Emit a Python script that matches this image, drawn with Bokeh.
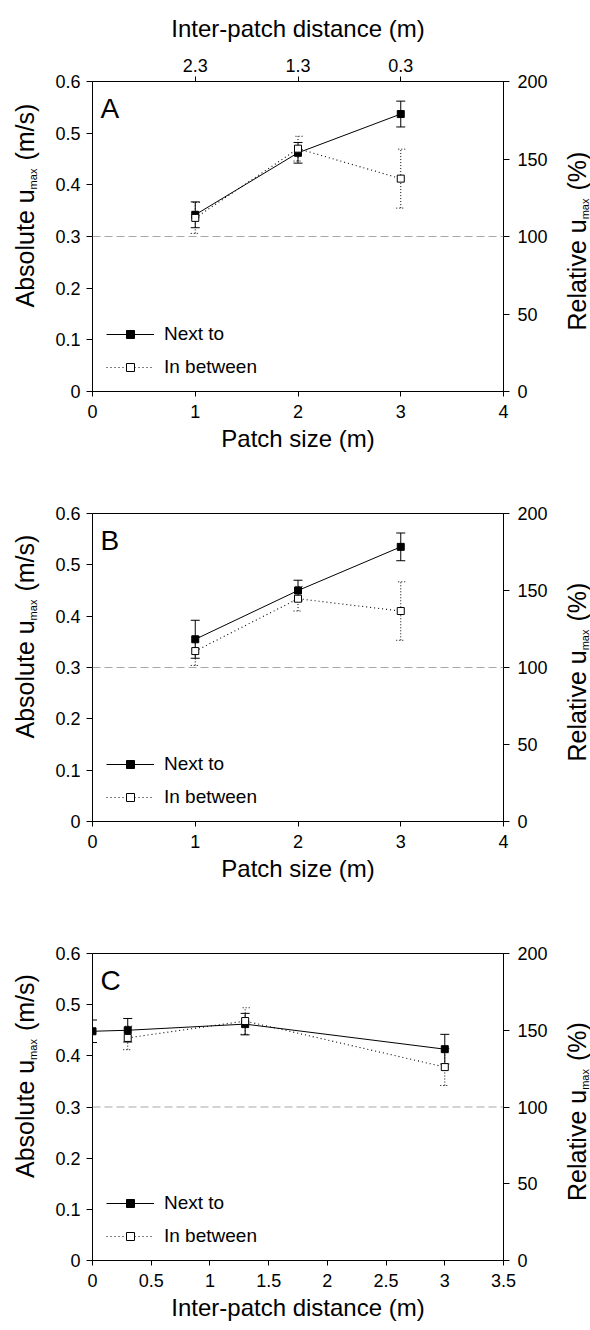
import math
from bokeh.plotting import figure
from bokeh.models import (ColumnDataSource, Whisker, TeeHead, Span, Label,
                          LinearAxis, Range1d, FixedTicker, Legend, LegendItem)
from bokeh.core.properties import value
from bokeh.layouts import column, row
from bokeh.embed import file_html
from bokeh.resources import INLINE

# ---------------- data ----------------
patch_size = [1, 2, 3]
top_ticks = [1, 2, 3]
top_tick_labels = ["2.3", "1.3", "0.3"]
size_ticks = [0, 1, 2, 3, 4]
size_tick_labels = ["0", "1", "2", "3", "4"]
dist_ticks = [0, 0.5, 1, 1.5, 2, 2.5, 3, 3.5]
dist_tick_labels = ["0", "0.5", "1", "1.5", "2", "2.5", "3", "3.5"]
abs_ticks = [0, 0.1, 0.2, 0.3, 0.4, 0.5, 0.6]
abs_tick_labels = ["0", "0.1", "0.2", "0.3", "0.4", "0.5", "0.6"]
rel_ticks = [0, 50, 100, 150, 200]
rel_tick_labels = ["0", "50", "100", "150", "200"]
reference_umax = 0.3
series_names = ["Next to", "In between"]

# Panel A
a_next = [0.342, 0.462, 0.537]
a_next_err = [0.025, 0.020, 0.025]
a_betw = [0.336, 0.470, 0.412]
a_betw_err = [0.030, 0.024, 0.057]
# Panel B
b_next = [0.355, 0.450, 0.535]
b_next_err = [0.037, 0.020, 0.027]
b_betw = [0.332, 0.434, 0.410]
b_betw_err = [0.028, 0.024, 0.057]
# Panel C
c_next_x = [0, 0.3, 1.3, 3.0]
c_next = [0.448, 0.450, 0.462, 0.413]
c_next_err = [0.022, 0.023, 0.021, 0.029]
c_betw_x = [0.3, 1.3, 3.0]
c_betw = [0.435, 0.468, 0.378]
c_betw_err = [0.023, 0.026, 0.036]

# ---------------- style / layout ----------------
FONT = "Liberation Sans"
SL, SR = 40, 40          # side strips for rotated titles
W = 590 - SL - SR        # main figure width
FL = 92 - SL             # main border left
FW = 412
FR = W - FL - FW
YMAX = 0.6

ARIAL = {'A': 667, 'b': 556, 's': 500, 'o': 556, 'l': 222, 'u': 556, 't': 278,
         'e': 556, ' ': 278, 'm': 833, 'a': 556, 'x': 500, '(': 333, '/': 278,
         ')': 333, 'R': 722, 'i': 222, 'v': 500, '%': 889}


def text_w(s, size):
    return sum(ARIAL.get(c, 556) for c in s) / 1000.0 * size


def style_axis(ax, tick_out=6):
    ax.axis_line_color = "black"
    ax.major_tick_line_color = "black"
    ax.major_tick_out = tick_out
    ax.major_tick_in = 0
    ax.minor_tick_line_color = None
    ax.major_label_text_font = FONT
    ax.major_label_text_font_size = "18px"
    ax.major_label_text_color = "black"
    ax.axis_label_text_font = FONT
    ax.axis_label_text_font_size = "24px"
    ax.axis_label_text_font_style = "normal"
    ax.axis_label_text_color = "black"


def title_strip(width, height, top, bottom, pieces, base_x, start_from_bottom):
    """Rotated title (reads bottom to top); base_x is the text baseline."""
    fh = height - top - bottom
    s = figure(width=width, height=height, x_range=Range1d(0, width),
               y_range=Range1d(0, fh), output_backend="svg",
               toolbar_location=None, x_axis_location=None, y_axis_location=None,
               min_border=0, min_border_left=0, min_border_right=0,
               min_border_top=top, min_border_bottom=bottom)
    s.outline_line_color = None
    s.xgrid.visible = False
    s.ygrid.visible = False
    s.background_fill_color = "white"
    s.border_fill_color = "white"
    y = start_from_bottom
    for txt, size, shift, gap in pieces:
        y += gap
        cx = base_x + shift - 0.35 * size   # centre line of the text box
        s.text(x=[cx], y=[y], text=[txt], angle=math.pi / 2,
               text_font=value(FONT), text_font_size=f"{size}px",
               text_align="left", text_baseline="middle", text_color="black")
        y += text_w(txt, size)
    return s


def make_panel(letter, height, top, bottom, x_end, x_ticks, x_labels, x_title,
               nx, ny, ne, bx, by, be, top_axis=False):
    fh = height - top - bottom
    p = figure(width=W, height=height, x_range=Range1d(0, x_end),
               y_range=Range1d(0, YMAX), output_backend="svg",
               toolbar_location=None, min_border_left=FL, min_border_right=FR,
               min_border_top=top, min_border_bottom=bottom)
    p.outline_line_color = "black"
    p.outline_line_width = 1
    p.xgrid.visible = False
    p.ygrid.visible = False
    p.background_fill_color = "white"
    p.border_fill_color = "white"

    # bottom axis
    xa = p.xaxis[0]
    xa.ticker = FixedTicker(ticks=x_ticks)
    xa.major_label_overrides = dict(zip(x_ticks, x_labels))
    style_axis(xa, 5)
    xa.major_label_standoff = 8
    xa.axis_label = x_title
    xa.axis_label_standoff = 4

    # left axis
    ya = p.yaxis[0]
    ya.ticker = FixedTicker(ticks=abs_ticks)
    ya.major_label_overrides = dict(zip(abs_ticks, abs_tick_labels))
    style_axis(ya, 6)
    ya.major_label_standoff = 6

    # right axis
    p.extra_y_ranges = {"rel": Range1d(0, 200)}
    ra = LinearAxis(y_range_name="rel", ticker=FixedTicker(ticks=rel_ticks))
    ra.major_label_overrides = dict(zip(rel_ticks, rel_tick_labels))
    style_axis(ra, 6)
    ra.major_label_standoff = 8
    p.add_layout(ra, "right")

    if top_axis:
        ta = LinearAxis(ticker=FixedTicker(ticks=top_ticks))
        ta.major_label_overrides = dict(zip(top_ticks, top_tick_labels))
        style_axis(ta, 5)
        ta.major_label_standoff = 5
        ta.axis_label = "Inter-patch distance (m)"
        ta.axis_label_standoff = 14
        p.add_layout(ta, "above")

    # reference line (100 %)
    p.add_layout(Span(location=reference_umax, dimension="width",
                      line_color="#a8a8a8", line_dash="8 4", line_width=1))

    bsrc = ColumnDataSource(dict(x=bx, y=by,
                                 up=[v + e for v, e in zip(by, be)],
                                 lo=[v - e for v, e in zip(by, be)]))
    nsrc = ColumnDataSource(dict(x=nx, y=ny,
                                 up=[v + e for v, e in zip(ny, ne)],
                                 lo=[v - e for v, e in zip(ny, ne)]))

    p.add_layout(Whisker(source=bsrc, base="x", upper="up", lower="lo",
                         line_color="black", line_width=1, line_dash="1 2",
                         upper_head=TeeHead(size=9, line_color="black", line_width=1, line_dash="1 2"),
                         lower_head=TeeHead(size=9, line_color="black", line_width=1, line_dash="1 2")))
    p.add_layout(Whisker(source=nsrc, base="x", upper="up", lower="lo",
                         line_color="black", line_width=1,
                         upper_head=TeeHead(size=9, line_color="black", line_width=1),
                         lower_head=TeeHead(size=9, line_color="black", line_width=1)))

    nl = p.line("x", "y", source=nsrc, line_color="black", line_width=1)
    ns = p.scatter("x", "y", source=nsrc, marker="square", size=7,
                   fill_color="black", line_color="black")
    bl = p.line("x", "y", source=bsrc, line_color="black", line_width=1.1,
                line_dash="1 3")
    bs = p.scatter("x", "y", source=bsrc, marker="square", size=7,
                   fill_color="white", line_color="black", line_width=1)

    legend = Legend(items=[LegendItem(label=series_names[0], renderers=[nl, ns]),
                           LegendItem(label=series_names[1], renderers=[bl, bs])],
                    location=(14, 13), glyph_width=48, glyph_height=20,
                    label_height=20, label_standoff=10, spacing=11, padding=0,
                    margin=0, border_line_color=None, background_fill_alpha=0,
                    label_text_font=FONT, label_text_font_size="19px",
                    label_text_color="black")
    p.add_layout(legend)

    # panel letter (inside the frame, top-left corner)
    lx = 8.0 / FW * x_end
    ly = (fh - 27.0) / fh * YMAX
    p.add_layout(Label(x=lx, y=ly, text=letter, text_font=FONT,
                       text_font_size="28px", text_align="left",
                       text_baseline="alphabetic", text_color="black"))

    left = title_strip(SL, height, top, bottom,
                       [("Absolute u", 25, 0, 0), ("max", 11, 3, 0), ("(m/s)", 25, 0, 8)],
                       33, fh / 2.0 - 71)
    right = title_strip(SR, height, top, bottom,
                        [("Relative u", 25, 0, 0), ("max", 11, 3, 0), ("(%)", 25, 0, 8)],
                        35, fh / 2.0 - 94)
    return row(left, p, right, spacing=0)


pA = make_panel("A", 460, 81, 69, 4, size_ticks, size_tick_labels, "Patch size (m)",
                patch_size, a_next, a_next_err, patch_size, a_betw, a_betw_err,
                top_axis=True)
pB = make_panel("B", 460, 53, 99, 4, size_ticks, size_tick_labels, "Patch size (m)",
                patch_size, b_next, b_next_err, patch_size, b_betw, b_betw_err)
pC = make_panel("C", 410, 33, 70, 3.5, dist_ticks, dist_tick_labels,
                "Inter-patch distance (m)",
                c_next_x, c_next, c_next_err, c_betw_x, c_betw, c_betw_err)

layout = column(pA, pB, pC, spacing=0)
open("out.html", "w").write(file_html(layout, INLINE))
